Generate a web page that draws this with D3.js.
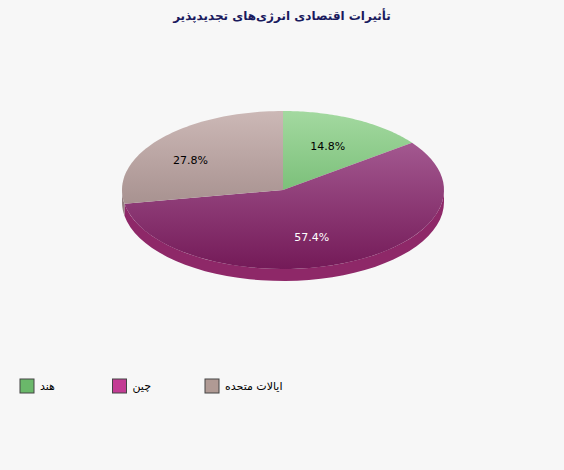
<!DOCTYPE html>
<html><head><meta charset="utf-8">
<script src="https://cdn.jsdelivr.net/npm/d3@7"></script>
<style>body{margin:0;background:#f7f7f7;font-family:"DejaVu Sans",sans-serif}</style>
</head><body>
<svg id="c" width="564" height="470"></svg>
<script>
var labels = ['هند', 'چین', 'ایالات متحده'];
var values = [14.8, 57.4, 27.8];
var topA = ['#a3d9a0', '#a35890', '#ccb8b6'];
var topB = ['#7cc07a', '#741a58', '#a89290'];
var sideC = ['#5e9e5c', '#8e2868', '#948080'];
var legendC = ['#6ab86a', '#c33c94', '#b09a94'];

var svg = d3.select('#c');
var cx = 283, cy = 190, rx = 161, ry = 79, depth = 12;

svg.append('text').attr('x', 282).attr('y', 20).attr('text-anchor', 'middle')
  .attr('font-size', 12).attr('font-weight', 'bold').attr('fill', '#1a1a5e')
  .text('تأثیرات اقتصادی انرژی‌های  تجدیدپذیر');

var defs = svg.append('defs');
values.forEach(function (v, i) {
  var g = defs.append('linearGradient').attr('id', 'g' + i)
    .attr('x1', 0).attr('y1', 0).attr('x2', 0).attr('y2', 1);
  g.append('stop').attr('offset', '0%').attr('stop-color', topA[i]);
  g.append('stop').attr('offset', '100%').attr('stop-color', topB[i]);
});

var arcs = d3.pie().sort(null)(values);
function pt(a, dy) { return [cx + rx * Math.sin(a), cy - ry * Math.cos(a) + (dy || 0)]; }

// side walls (only the front half, angles between PI/2 and 3PI/2)
arcs.forEach(function (d, i) {
  var s = Math.max(d.startAngle, Math.PI / 2), e = Math.min(d.endAngle, 3 * Math.PI / 2);
  if (s >= e) return;
  var p = d3.path(), n = 40, k, a, q;
  q = pt(s); p.moveTo(q[0], q[1]);
  for (k = 1; k <= n; k++) { a = s + (e - s) * k / n; q = pt(a); p.lineTo(q[0], q[1]); }
  for (k = n; k >= 0; k--) { a = s + (e - s) * k / n; q = pt(a, depth); p.lineTo(q[0], q[1]); }
  p.closePath();
  svg.append('path').attr('d', p.toString()).attr('fill', sideC[i]);
});

// top faces
arcs.forEach(function (d, i) {
  var p = d3.path(), n = 60, k, q;
  p.moveTo(cx, cy);
  for (k = 0; k <= n; k++) { q = pt(d.startAngle + (d.endAngle - d.startAngle) * k / n); p.lineTo(q[0], q[1]); }
  p.closePath();
  svg.append('path').attr('d', p.toString()).attr('fill', 'url(#g' + i + ')');
});

var lblPos = [[0.62, 0.62], [0.45, 0.65], [0.75, 0.6]];
arcs.forEach(function (d, i) {
  var m = (d.startAngle + d.endAngle) / 2;
  var r = lblPos[i];
  svg.append('text').attr('x', cx + rx * r[0] * Math.sin(m)).attr('y', cy - ry * r[1] * Math.cos(m) + 4)
    .attr('text-anchor', 'middle').attr('font-size', 11)
    .attr('fill', i === 1 ? '#fff' : '#000')
    .text(values[i].toFixed(1) + '%');
});

var lx = d3.scalePoint().domain(labels).range([20, 205]);
labels.forEach(function (l, i) {
  var g = svg.append('g').attr('transform', 'translate(' + lx(l) + ',379)');
  g.append('rect').attr('width', 14).attr('height', 14).attr('fill', legendC[i]).attr('stroke', '#444');
  g.append('text').attr('x', 20).attr('y', 11).attr('font-size', 11).attr('fill', '#000')
    .attr('direction', 'rtl').attr('text-anchor', 'end').text(l);
});
</script>
</body></html>
